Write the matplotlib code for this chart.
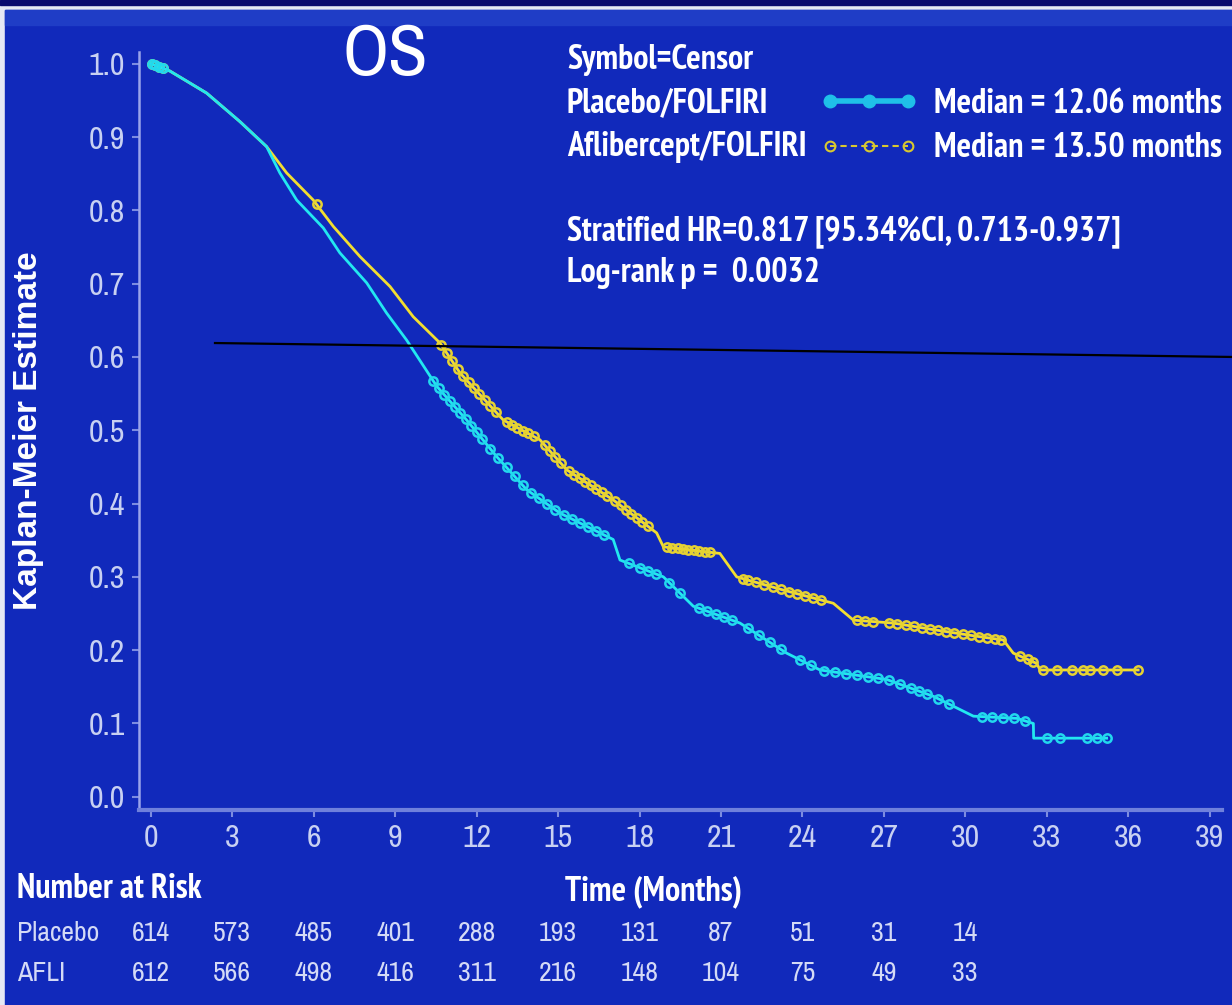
import numpy as np
import matplotlib
matplotlib.use("Agg")
import matplotlib.pyplot as plt
from matplotlib import font_manager
from matplotlib.lines import Line2D
from matplotlib.patches import Rectangle
import matplotlib.transforms as mtransforms

# Kaplan-Meier curves (months, survival estimate)
placebo_t = [0, 0.70, 2.05, 3.28, 4.26, 4.75, 5.37, 6.35, 6.96, 7.95, 8.68, 9.42,
             10.53, 11.63, 12.74, 13.84, 15.07, 17.03, 17.28, 18.88, 19.98, 21.70,
             23.42, 24.65, 27.11, 28.83, 30.30, 31.90, 32.51, 32.52, 35.21]
placebo_s = [1.0, 0.990, 0.960, 0.921, 0.887, 0.851, 0.814, 0.776, 0.742, 0.701, 0.660, 0.623,
             0.560, 0.514, 0.464, 0.419, 0.387, 0.351, 0.323, 0.300, 0.260, 0.237,
             0.196, 0.173, 0.160, 0.137, 0.110, 0.107, 0.100, 0.080, 0.080]

afli_t = [0, 0.70, 2.05, 3.28, 4.26, 5.00, 5.98, 6.72, 7.70, 8.81, 9.66, 10.65,
          11.39, 12.98, 14.33, 15.32, 17.03, 18.63, 18.88, 20.96, 21.58, 23.30,
          25.14, 25.88, 27.35, 28.83, 30.42, 31.40, 31.77, 32.63, 32.76, 36.37]
afli_s = [1.0, 0.990, 0.960, 0.921, 0.887, 0.851, 0.814, 0.778, 0.737, 0.696, 0.655, 0.619,
          0.578, 0.514, 0.487, 0.446, 0.405, 0.360, 0.341, 0.332, 0.300, 0.282,
          0.264, 0.241, 0.237, 0.228, 0.219, 0.214, 0.196, 0.182, 0.173, 0.173]

# censor marks (months), estimated from the beaded parts of the curves
placebo_censor = [0.05, 0.15, 0.3, 0.45, 10.4, 10.6, 10.8, 11.0, 11.2, 11.4,
                  11.6, 11.8, 12.0, 12.2, 12.5, 12.8, 13.1, 13.4, 13.7, 14.0, 14.3, 14.6,
                  14.9, 15.2, 15.5, 15.8, 16.1, 16.4, 16.7, 17.6, 18.0, 18.3, 18.6, 19.1,
                  19.5, 20.2, 20.5, 20.8, 21.1, 21.4, 22.0, 22.4, 22.8, 23.2, 23.9, 24.3,
                  24.8, 25.2, 25.6, 26.0, 26.4, 26.8, 27.2, 27.6, 28.0, 28.3, 28.6, 29.0,
                  29.4, 30.6, 31.0, 31.4, 31.8, 32.2, 33.0, 33.5, 34.48, 34.85, 35.21]
afli_censor = [0.05, 0.15, 0.3, 0.45, 6.1, 10.7, 10.9, 11.1, 11.3, 11.5, 11.7, 11.9,
               12.1, 12.3, 12.5, 12.7, 13.1, 13.3, 13.5, 13.7, 13.9, 14.1, 14.5, 14.7,
               14.9, 15.1, 15.4, 15.6, 15.8, 16.0, 16.2, 16.4, 16.6, 16.8, 17.1, 17.3,
               17.5, 17.7, 17.9, 18.1, 18.3, 19.0, 19.2, 19.4, 19.6, 19.8, 20.0, 20.2,
               20.4, 20.6, 21.8, 22.0, 22.3, 22.6, 22.9, 23.2, 23.5, 23.8, 24.1, 24.4,
               24.7, 26.0, 26.3, 26.6, 27.2, 27.5, 27.8, 28.1, 28.4, 28.7, 29.0, 29.3,
               29.6, 29.9, 30.2, 30.5, 30.8, 31.1, 31.3, 32.0, 32.3, 32.5, 32.87, 33.38,
               33.94, 34.34, 34.60, 35.08, 35.59, 36.37]

# number at risk table
risk_times = [0, 3, 6, 9, 12, 15, 18, 21, 24, 27, 30]
risk_placebo = [614, 573, 485, 401, 288, 193, 131, 87, 51, 31, 14]
risk_afli = [612, 566, 498, 416, 311, 216, 148, 104, 75, 49, 33]

x_ticks = list(range(0, 40, 3))
y_ticks = [0.0, 0.1, 0.2, 0.3, 0.4, 0.5, 0.6, 0.7, 0.8, 0.9, 1.0]

# hand-drawn black line on the slide
ref_line_x = [2.36, 39.83]
ref_line_y = [0.619, 0.600]

BLUE = "#1129bb"
CYAN = "#22e8f0"
YELLOW = "#f2de30"
TICKC = "#c8d0f2"

# pick condensed sans fonts (the slide uses Arial Narrow)
candidates = ["Arial Narrow", "Liberation Sans Narrow", "Archivo Narrow", "PT Sans Narrow",
              "Roboto Condensed", "IBM Plex Sans Condensed", "Open Sans Condensed"]


def weight_num(w):
    if isinstance(w, (int, float)):
        return w
    return font_manager.weight_dict.get(str(w), 400)


fonts = font_manager.fontManager.ttflist
installed = {f.name for f in fonts}
bold_ok = {f.name for f in fonts if weight_num(f.weight) >= 600}
reg_name = next((c for c in candidates if c in installed), "DejaVu Sans")
bold_name = next((c for c in candidates if c in bold_ok), "DejaVu Sans")
NARROW = [reg_name, "DejaVu Sans"]
NARROW_B = [bold_name, "DejaVu Sans"]

fig = plt.figure(figsize=(12.32, 10.05), dpi=100)
fig.patch.set_facecolor("#e6e8f4")
W, H = 1232, 1005
fig.add_artist(Rectangle((5 / W, 0), 1, 1 - 10 / H, transform=fig.transFigure,
                         color=BLUE, zorder=-10))
fig.add_artist(Rectangle((5 / W, 1 - 25 / H), 1, 15 / H, transform=fig.transFigure,
                         color="#1f3dc6", zorder=-9))
fig.add_artist(Rectangle((0, 1 - 5 / H), 1, 5 / H, transform=fig.transFigure,
                         color="#0a0a6e", zorder=-8))

ax = fig.add_axes([139 / W, 1 - 810 / H, (1222 - 139) / W, (810 - 52) / H])
ax.set_facecolor("none")

ax.plot(afli_t, afli_s, color=YELLOW, lw=2.0, zorder=3)
ax.plot(placebo_t, placebo_s, color=CYAN, lw=2.0, zorder=4)
ax.plot(afli_censor, np.interp(afli_censor, afli_t, afli_s), ls="none", marker="o",
        ms=6, mfc="none", mec="#e6d232", mew=1.8, zorder=3)
ax.plot(placebo_censor, np.interp(placebo_censor, placebo_t, placebo_s), ls="none",
        marker="o", ms=6, mfc="none", mec="#22d8ee", mew=1.8, zorder=4)

ax.plot(ref_line_x, ref_line_y, color="black", lw=1.6, clip_on=False, zorder=6)

ax.set_xlim(-0.44, 39.46)
ax.set_ylim(-0.018, 1.016)
ax.set_xticks(x_ticks)
ax.set_yticks(y_ticks)
ax.set_yticklabels([f"{v:.1f}" for v in y_ticks])
for s in ["top", "right"]:
    ax.spines[s].set_visible(False)
ax.spines["left"].set_color("#9aa4ea")
ax.spines["left"].set_linewidth(1.8)
ax.spines["bottom"].set_color("#6f80dc")
ax.spines["bottom"].set_linewidth(3.0)
ax.tick_params(colors="#7d8ce0", length=5, width=1.5, labelcolor=TICKC, labelsize=23, pad=5)
for lab in ax.get_xticklabels() + ax.get_yticklabels():
    lab.set_family(NARROW)

# the slide is stretched vertically, so the rotated label looks long and thin
ax.set_ylabel("Kaplan-Meier Estimate", color="white", fontsize=24, fontweight="bold",
              family=["Liberation Sans", "DejaVu Sans"])
ax.yaxis.set_label_coords(-0.0877, 0.5)
ax.set_xlabel("Time (Months)", color="white", fontsize=24.5, fontweight="bold",
              family=NARROW_B)
ax.xaxis.set_label_coords(0.475, -0.086)

# title
fig.text(385 / W, 1 - 75 / H, "OS", color="white", fontsize=52, ha="center",
         va="baseline", family=NARROW)

# legend-style annotation
txt = dict(color="white", fontsize=24.5, fontweight="bold", family=NARROW_B, va="center",
           ha="left")
fig.text(567 / W, 1 - 60 / H, "Symbol=Censor", **txt)
fig.text(567 / W, 1 - 103 / H, "Placebo/FOLFIRI", **txt)
fig.text(567 / W, 1 - 147 / H, "Aflibercept/FOLFIRI", **txt)
fig.text(567 / W, 1 - 232 / H, "Stratified HR=0.817 [95.34%CI, 0.713-0.937]", **txt)
fig.text(567 / W, 1 - 273 / H, "Log-rank p =  0.0032", **txt)

handles = [Line2D([], [], color="#1fc0e8", lw=4, marker="o", ms=9, mfc="#1fc0e8"),
           Line2D([], [], color="#d8c830", lw=1.5, ls=(0, (3, 2)), marker="o", ms=7,
                  mfc="none", mew=1.5)]
leg = fig.legend(handles, ["Median = 12.06 months", "Median = 13.50 months"],
                 loc="center left", bbox_to_anchor=(820 / W, 1 - 126 / H), frameon=False,
                 numpoints=3, handlelength=2.9, handletextpad=0.45, labelspacing=0.38,
                 borderpad=0, borderaxespad=0,
                 prop=dict(family=NARROW_B, size=24.5, weight="bold"))
for t in leg.get_texts():
    t.set_color("white")

# number at risk table
fig.text(17 / W, 1 - 889 / H, "Number at Risk", **txt)
row = dict(color="#d4daf6", fontsize=20, family=NARROW, va="center")
fig.text(17 / W, 1 - 933 / H, "Placebo", ha="left", **row)
fig.text(17 / W, 1 - 973 / H, "AFLI", ha="left", **row)
trans = mtransforms.blended_transform_factory(ax.transData, fig.transFigure)
for t, a, b in zip(risk_times, risk_placebo, risk_afli):
    ax.text(t, 1 - 933 / H, str(a), transform=trans, ha="center", clip_on=False, **row)
    ax.text(t, 1 - 973 / H, str(b), transform=trans, ha="center", clip_on=False, **row)

fig.savefig("out.png", dpi=100, facecolor=fig.get_facecolor())
